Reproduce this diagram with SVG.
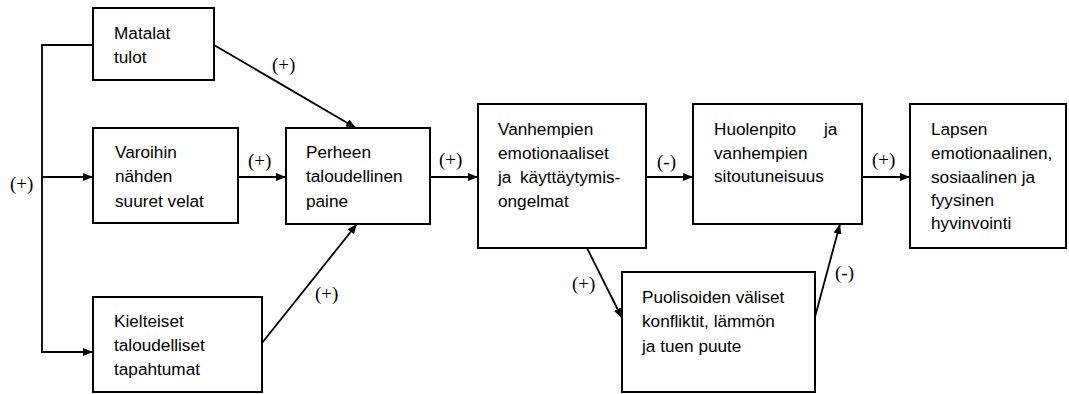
<svg xmlns="http://www.w3.org/2000/svg" width="1069" height="394" viewBox="0 0 1069 394">
  <style>
    .box { fill: #fff; stroke: #000; stroke-width: 2; }
    .lbl { font-family: "Liberation Sans", Arial, sans-serif; font-size: 17.2px; fill: #000; }
    .sign { font-family: "Liberation Serif", "Times New Roman", serif; font-size: 19px; fill: #000; }
    .con { fill: none; stroke: #000; stroke-width: 1.8; }
  </style>
  <defs>
    <marker id="arrow" viewBox="0 0 10 8" refX="10" refY="4" markerWidth="10" markerHeight="8" markerUnits="userSpaceOnUse" orient="auto">
      <path d="M0,0 L10,4 L0,8 Z" fill="#000"/>
    </marker>
  </defs>
  <rect width="1069" height="394" fill="#fff"/>

  <!-- connectors -->
  <g id="connectors">
    <polyline class="con" points="97,45 42,45 42,352 93,352" marker-end="url(#arrow)"/>
    <line class="con" x1="42" y1="177" x2="93" y2="177" marker-end="url(#arrow)"/>
    <line class="con" x1="238" y1="177" x2="286" y2="177" marker-end="url(#arrow)"/>
    <line class="con" x1="214" y1="45" x2="356" y2="128" marker-end="url(#arrow)"/>
    <line class="con" x1="262" y1="343" x2="357" y2="224" marker-end="url(#arrow)"/>
    <line class="con" x1="430" y1="177" x2="478" y2="177" marker-end="url(#arrow)"/>
    <line class="con" x1="646" y1="177" x2="693" y2="177" marker-end="url(#arrow)"/>
    <line class="con" x1="862" y1="177" x2="910" y2="177" marker-end="url(#arrow)"/>
    <line class="con" x1="587" y1="248" x2="622" y2="318" marker-end="url(#arrow)"/>
    <line class="con" x1="815" y1="317" x2="840" y2="224" marker-end="url(#arrow)"/>

    <text class="sign" x="10" y="190">(+)</text>
    <text class="sign" x="248" y="167">(+)</text>
    <text class="sign" x="272" y="71">(+)</text>
    <text class="sign" x="315" y="300">(+)</text>
    <text class="sign" x="439" y="166">(+)</text>
    <text class="sign" x="657" y="168">(-)</text>
    <text class="sign" x="872" y="166">(+)</text>
    <text class="sign" x="572" y="290">(+)</text>
    <text class="sign" x="835" y="279">(-)</text>
  </g>

  <g id="matalat-tulot">
    <rect class="box" x="93" y="8" width="121" height="72"/>
    <text class="lbl" x="114" y="39">Matalat</text>
    <text class="lbl" x="114" y="63">tulot</text>
  </g>

  <g id="varoihin-velat">
    <rect class="box" x="93" y="128" width="145" height="95"/>
    <text class="lbl" x="115" y="158">Varoihin</text>
    <text class="lbl" x="115" y="182">nähden</text>
    <text class="lbl" x="115" y="207">suuret velat</text>
  </g>

  <g id="kielteiset-tapahtumat">
    <rect class="box" x="93" y="297" width="169" height="95"/>
    <text class="lbl" x="114" y="327">Kielteiset</text>
    <text class="lbl" x="114" y="351">taloudelliset</text>
    <text class="lbl" x="114" y="375">tapahtumat</text>
  </g>

  <g id="perheen-paine">
    <rect class="box" x="286" y="128" width="144" height="96"/>
    <text class="lbl" x="306" y="158">Perheen</text>
    <text class="lbl" x="306" y="182">taloudellinen</text>
    <text class="lbl" x="306" y="207">paine</text>
  </g>

  <g id="vanhempien-ongelmat">
    <rect class="box" x="478" y="104" width="168" height="144"/>
    <text class="lbl" x="498" y="135">Vanhempien</text>
    <text class="lbl" x="498" y="159">emotionaaliset</text>
    <text class="lbl" y="183"><tspan x="498">ja</tspan><tspan x="520">käyttäytymis-</tspan></text>
    <text class="lbl" x="498" y="207">ongelmat</text>
  </g>

  <g id="huolenpito">
    <rect class="box" x="693" y="104" width="169" height="120"/>
    <text class="lbl" y="135"><tspan x="714">Huolenpito</tspan><tspan x="824">ja</tspan></text>
    <text class="lbl" x="714" y="159">vanhempien</text>
    <text class="lbl" x="714" y="182">sitoutuneisuus</text>
  </g>

  <g id="lapsen-hyvinvointi">
    <rect class="box" x="910" y="104" width="156" height="144"/>
    <text class="lbl" x="931" y="135">Lapsen</text>
    <text class="lbl" x="931" y="159">emotionaalinen,</text>
    <text class="lbl" x="931" y="183">sosiaalinen ja</text>
    <text class="lbl" x="931" y="206">fyysinen</text>
    <text class="lbl" x="931" y="229">hyvinvointi</text>
  </g>

  <g id="puolisoiden-konfliktit">
    <rect class="box" x="622" y="272" width="193" height="120"/>
    <text class="lbl" x="642" y="303">Puolisoiden väliset</text>
    <text class="lbl" x="642" y="327">konfliktit, lämmön</text>
    <text class="lbl" x="642" y="352">ja tuen puute</text>
  </g>
</svg>
